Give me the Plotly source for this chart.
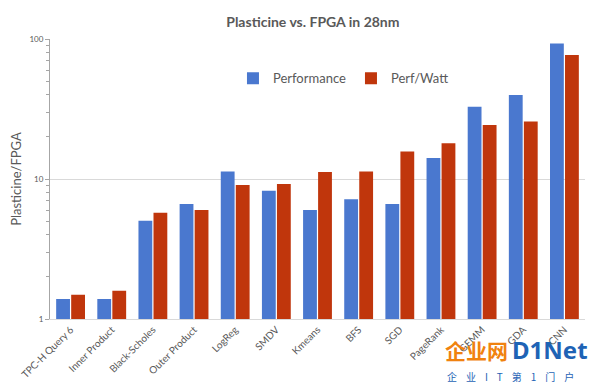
import plotly.graph_objects as go

categories = ["TPC-H Query 6", "Inner Product", "Black-Scholes", "Outer Product", "LogReg",
              "SMDV", "Kmeans", "BFS", "SGD", "PageRank", "GEMM", "GDA", "CNN"]
performance = [1.39, 1.39, 5.04, 6.63, 11.3, 8.25, 6.0, 7.16, 6.63, 14.1, 32.8, 39.8, 93]
perf_watt = [1.49, 1.59, 5.75, 6.0, 9.06, 9.2, 11.2, 11.3, 15.7, 18.0, 24.3, 25.7, 76.9]
y_ticks = [1, 10, 100]
y_minor_ticks = [2, 3, 4, 5, 6, 7, 8, 9, 20, 30, 40, 50, 60, 70, 80, 90]

FONT = "Lato, 'Open Sans', sans-serif"
GRAY = "#595959"

fig = go.Figure()
fig.add_trace(go.Bar(name="Performance", x=categories, y=performance,
                     marker=dict(color="#4A78CF", line=dict(width=0))))
fig.add_trace(go.Bar(name="Perf/Watt", x=categories, y=perf_watt,
                     marker=dict(color="#C0360C", line=dict(width=0))))

fig.update_layout(
    width=592, height=380,
    margin=dict(l=42, r=15, t=31, b=69, autoexpand=False),
    paper_bgcolor="white", plot_bgcolor="white",
    barmode="group", bargap=0.27, bargroupgap=0.08,
    title=dict(text="<b>Plasticine vs. FPGA in 28nm</b>", x=0.515, xanchor="center",
               y=0.962, yanchor="middle", font=dict(family=FONT, size=14, color=GRAY)),
    legend=dict(orientation="h", x=0.342, y=0.86, xanchor="left", yanchor="middle",
                font=dict(family=FONT, size=13, color=GRAY), bgcolor="rgba(0,0,0,0)",
                itemwidth=30, traceorder="normal"),
    font=dict(family=FONT, color=GRAY),
)
fig.update_xaxes(
    tickangle=-45, tickfont=dict(size=10, color=GRAY, family=FONT),
    showline=True, linecolor="#D9D9D9", linewidth=1, ticks="", showgrid=False,
    automargin=False,
)
fig.update_yaxes(
    type="log", range=[0, 2], tickvals=y_ticks, ticktext=[str(v) for v in y_ticks],
    tickfont=dict(size=8, color=GRAY, family=FONT),
    showline=True, linecolor="#A6A6A6", linewidth=1, ticks="outside", ticklen=4,
    tickcolor="#A6A6A6",
    showgrid=True, gridcolor="#D9D9D9", gridwidth=1,
    minor=dict(tickmode="array", tickvals=y_minor_ticks, ticks="outside", ticklen=3,
               tickcolor="#A6A6A6", showgrid=False),
    title=dict(text="Plasticine/FPGA", font=dict(size=13, color=GRAY, family=FONT), standoff=12),
    zeroline=False, automargin=False,
)

# watermark
fig.add_annotation(text="<b>企业网</b>", xref="paper", yref="paper", x=0.735, y=-0.11,
                   xanchor="left", yanchor="middle", showarrow=False,
                   font=dict(size=21, color="#F0820F", family="Noto Sans CJK SC"))
fig.add_annotation(text="<b>D1Net</b>", xref="paper", yref="paper", x=0.86, y=-0.11,
                   xanchor="left", yanchor="middle", showarrow=False,
                   font=dict(size=24, color="#1E63B5", family="Noto Sans"))
fig.add_annotation(text="企    业    I    T    第    1    门    户", xref="paper", yref="paper",
                   x=0.738, y=-0.205, xanchor="left", yanchor="middle", showarrow=False,
                   font=dict(size=10, color="#1E63B5", family="Noto Sans CJK SC"))

fig.write_html("out.html")
